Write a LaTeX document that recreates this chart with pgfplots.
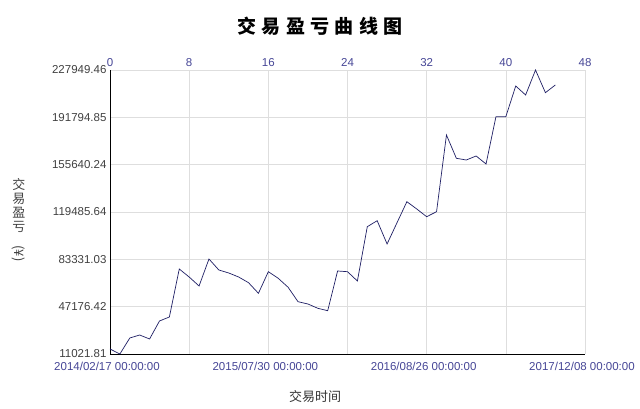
\documentclass[border=0pt]{standalone}
\usepackage{fontspec}
\setmainfont{Liberation Sans}
\newfontfamily\cjk{Noto Sans CJK SC}
\newfontfamily\cjktitle[LetterSpace=28]{Noto Sans CJK SC}
\usepackage{graphicx}
\usepackage{pgfplots}
\pgfplotsset{compat=1.18}
\definecolor{tickblue}{RGB}{70,70,150}
\definecolor{linec}{RGB}{30,30,100}
\definecolor{gridc}{RGB}{222,222,222}
\begin{document}
\begin{tikzpicture}[x=1pt,y=1pt]
\begin{axis}[at={(110pt,55pt)}, anchor=south west, scale only axis,
  width=475pt, height=284pt,
  xmin=0, xmax=48, ymin=11021.81, ymax=227949.46,
  scaled y ticks=false,
  axis x line*=bottom, axis y line*=left,
  axis line style={black, line width=0.8pt, -},
  xtick={0,8,16,24,32,40,48},
  xticklabels={2014/02/17 00:00:00,,2015/07/30 00:00:00,,2016/08/26 00:00:00,,2017/12/08 00:00:00},
  xticklabel style={font=\fontsize{11.5}{12}\selectfont, text=tickblue, xshift=-3pt, yshift=-5pt},
  ytick={11021.81,47176.42,83331.03,119485.64,155640.24,191794.85,227949.46},
  yticklabels={11021.81,47176.42,83331.03,119485.64,155640.24,191794.85,227949.46},
  yticklabel style={font=\fontsize{11.5}{12}\selectfont, text=black!75},
  major tick length=0pt,
  grid=major, major grid style={gridc, line width=0.6pt},
  title={\cjktitle\bfseries 交易盈亏曲线图},
  title style={at={(axis description cs:0.442,1.134)}, anchor=center, font=\fontsize{19}{20}\selectfont},
  xlabel={\cjk 交易时间},
  xlabel style={at={(axis description cs:0.4316,-0.1514)}, anchor=center, font=\fontsize{13}{14}\selectfont, text=black!80},
  clip=false,
]
\addplot[linec, line width=0.7pt] table {
x y
0 14841
1 11021.81
2 23243
3 25535
4 22479
5 36228
6 39284
7 75947
8 69837
9 62962
10 83586
11 75184
12 72892
13 69837
14 65483
15 57386
16 73885
17 68844
18 61969
19 50970
20 49214
21 45929
22 44096
23 74420
24 73885
25 66781
26 108258
27 112841
28 95043
29 111236
30 127353
31 121777
32 115896
33 119715
34 178301
35 160504
36 159205
37 162260
38 156150
39 192278
40 192278
41 215728
42 208854
43 227949.46
44 210611
45 216492
};
\node[font=\cjk\fontsize{13}{14}\selectfont, text=black!75, align=center, inner sep=0pt]
  at (axis description cs:-0.1916,0.472) {交\\易\\盈\\亏\\\rotatebox{-90}{(¥)}};
\end{axis}
\begin{axis}[at={(110pt,55pt)}, anchor=south west, scale only axis,
  width=475pt, height=284pt,
  xmin=0, xmax=48, ymin=0, ymax=1,
  axis x line*=top, hide y axis,
  axis line style={draw=none},
  xtick={0,8,16,24,32,40,48},
  xticklabel style={font=\fontsize{11.5}{12}\selectfont, text=tickblue},
  /pgf/number format/assume math mode=true,
  major tick length=0pt,
]
\addplot[draw=none] coordinates {(0,0)};
\end{axis}
\pgfresetboundingbox
\path[use as bounding box] (0pt,0pt) rectangle (640pt,409pt);
\end{tikzpicture}
\end{document}
